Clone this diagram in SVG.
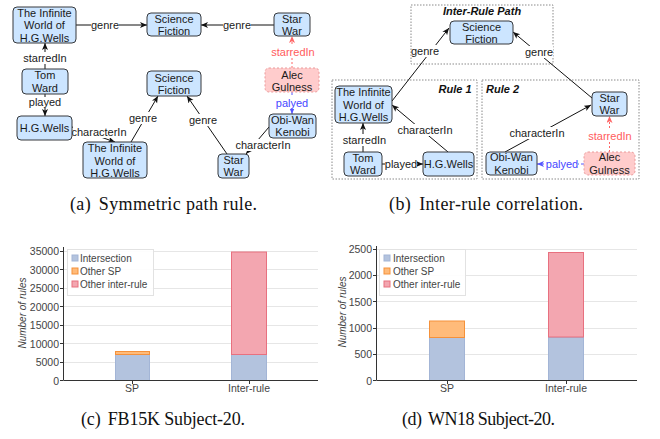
<svg xmlns="http://www.w3.org/2000/svg" width="660" height="439" viewBox="0 0 660 439">
<defs>
<style>
.n rect{fill:#cce5ff;stroke:#36393d;stroke-width:1}
.p rect{fill:#ffcccc;stroke:#ea9a9a;stroke-width:1;stroke-dasharray:2 2}
.n text,.p text,.lbl{font-family:"Liberation Sans",Arial,sans-serif;font-size:11px;text-anchor:middle;fill:#1a1a1a}
.e{stroke:#111;stroke-width:1;fill:none}
.er{stroke:#ff6666;stroke-width:1;fill:none;stroke-dasharray:2 2}
.eb{stroke:#5555ff;stroke-width:1;fill:none;stroke-dasharray:3 2}
.bg{fill:#fff}
.lbl.red{fill:#ff5c5c}
.lbl.blue{fill:#4747ff}
.grp{fill:none;stroke:#8a8a8a;stroke-width:1;stroke-dasharray:1.5 1.5}
.gt{font-family:"Liberation Sans",Arial,sans-serif;font-size:11px;font-weight:bold;font-style:italic;fill:#111}
.cap{font-family:"Liberation Serif","Times New Roman",serif;font-size:18px;fill:#111;text-anchor:middle}
.grid{stroke:#e6e6e6;stroke-width:1}
.axis{stroke:#333;stroke-width:1;fill:none}
.tk{font-family:"Liberation Sans",Arial,sans-serif;font-size:10.5px;fill:#444;text-anchor:end}
.cat{font-family:"Liberation Sans",Arial,sans-serif;font-size:10.5px;fill:#444;text-anchor:middle}
.leg{font-family:"Liberation Sans",Arial,sans-serif;font-size:10px;fill:#444}
.yl{font-family:"Liberation Sans",Arial,sans-serif;font-size:10px;font-style:italic;fill:#444;text-anchor:middle}
.legbox{fill:#fff;fill-opacity:0.9;stroke:#e2e2e2;stroke-width:1}
.sb{fill:#b3c3de;stroke:#a3b5d6;stroke-width:1}
.so{fill:#ffbb7a;stroke:#f5913a;stroke-width:1}
.sr{fill:#f3a6b0;stroke:#e8707f;stroke-width:1}
</style>
<marker id="ak" markerWidth="8" markerHeight="8" refX="7" refY="3" orient="auto" markerUnits="userSpaceOnUse"><path d="M0,0 L7,3 L0,6 L1.8,3 z" fill="#111"/></marker>
<marker id="ar" markerWidth="8" markerHeight="8" refX="7" refY="3" orient="auto" markerUnits="userSpaceOnUse"><path d="M0,0 L7,3 L0,6 L1.8,3 z" fill="#ff6666"/></marker>
<marker id="ab" markerWidth="8" markerHeight="8" refX="7" refY="3" orient="auto" markerUnits="userSpaceOnUse"><path d="M0,0 L7,3 L0,6 L1.8,3 z" fill="#5555ff"/></marker>
</defs>
<rect width="660" height="439" fill="#fff"/>

<!-- Panel (b) group frames -->
<g id="frames">
<rect class="grp" x="411" y="5" width="142" height="59"/>
<rect class="grp" x="332" y="80" width="145" height="99"/>
<rect class="grp" x="482" y="80" width="157" height="99"/>
<text class="gt" x="482" y="15" text-anchor="middle">Inter-Rule Path</text>
<text class="gt" x="455" y="93" text-anchor="middle">Rule 1</text>
<text class="gt" x="486" y="93">Rule 2</text>
</g>

<g id="connectors">
<!-- panel a -->
<path class="e" d="M76,25 H147" marker-end="url(#ak)"/>
<rect class="bg" x="91" y="19" width="28" height="12"/><text class="lbl" x="105" y="28.5">genre</text>
<path class="e" d="M274,25 H201" marker-end="url(#ak)"/>
<rect class="bg" x="223" y="19" width="28" height="12"/><text class="lbl" x="237" y="28.5">genre</text>
<path class="e" d="M45,69 V43" marker-end="url(#ak)"/>
<rect class="bg" x="23" y="52" width="44" height="12"/><text class="lbl" x="45" y="61.5">starredIn</text>
<path class="e" d="M45,94 V116" marker-end="url(#ak)"/>
<rect class="bg" x="29" y="97" width="32" height="11"/><text class="lbl" x="45" y="105.5">played</text>
<path class="e" d="M72,127 L115,142" marker-end="url(#ak)"/>
<rect class="bg" x="73" y="126" width="52" height="12"/><text class="lbl" x="99" y="135.5">characterIn</text>
<path class="e" d="M131,142 L158,96" marker-end="url(#ak)"/>
<rect class="bg" x="129" y="112" width="28" height="12"/><text class="lbl" x="143" y="121.5">genre</text>
<path class="e" d="M227,154 L187,96" marker-end="url(#ak)"/>
<rect class="bg" x="189" y="114" width="28" height="12"/><text class="lbl" x="203" y="123.5">genre</text>
<path class="e" d="M269,127 L246,154" marker-end="url(#ak)"/>
<rect class="bg" x="236" y="139" width="54" height="12"/><text class="lbl" x="263" y="148.5">characterIn</text>
<path class="er" d="M292,68 V36" marker-end="url(#ar)"/>
<rect class="bg" x="271" y="46" width="44" height="12"/><text class="lbl red" x="293" y="55.5">starredIn</text>
<path class="eb" d="M292,92 V114" marker-end="url(#ab)"/>
<rect class="bg" x="276" y="97" width="32" height="12"/><text class="lbl blue" x="292" y="106.5">palyed</text>
<!-- panel b -->
<path class="e" d="M392,101 L449,28" marker-end="url(#ak)"/>
<rect class="bg" x="412" y="45" width="26" height="12"/><text class="lbl" x="425" y="54.5">genre</text>
<path class="e" d="M592,98 L513,32" marker-end="url(#ak)"/>
<rect class="bg" x="525" y="46" width="28" height="12"/><text class="lbl" x="539" y="55.5">genre</text>
<path class="e" d="M363,152 V123" marker-end="url(#ak)"/>
<rect class="bg" x="342.5" y="134" width="44" height="12"/><text class="lbl" x="364.5" y="143.5">starredIn</text>
<path class="e" d="M382,164 H423" marker-end="url(#ak)"/>
<rect class="bg" x="385" y="158" width="32" height="12"/><text class="lbl" x="401" y="167.5">played</text>
<path class="e" d="M448,152 L392,105" marker-end="url(#ak)"/>
<rect class="bg" x="398" y="124" width="54" height="12"/><text class="lbl" x="425" y="133.5">characterIn</text>
<path class="e" d="M505,152 L591,105" marker-end="url(#ak)"/>
<rect class="bg" x="510" y="127" width="54" height="12"/><text class="lbl" x="537" y="136.5">characterIn</text>
<path class="er" d="M609.5,152 V116" marker-end="url(#ar)"/>
<rect class="bg" x="588" y="130" width="44" height="12"/><text class="lbl red" x="610" y="139.5">starredIn</text>
<path class="eb" d="M584,164 H537" marker-end="url(#ab)"/>
<rect class="bg" x="546" y="158" width="32" height="12"/><text class="lbl blue" x="562" y="167.5">palyed</text>
</g>

<!-- Panel (a) nodes -->
<g id="a_world1" class="n"><rect x="13" y="7" width="63" height="36" rx="4"/><text x="44.5" y="16.5">The Infinite<tspan x="44.5" y="29">World of</tspan><tspan x="44.5" y="41.5">H.G.Wells</tspan></text></g>
<g id="a_scifi1" class="n"><rect x="147" y="13" width="54" height="23" rx="4"/><text x="174" y="23">Science<tspan x="174" y="35">Fiction</tspan></text></g>
<g id="a_star1" class="n"><rect x="274" y="13" width="36" height="23" rx="4"/><text x="292" y="23">Star<tspan x="292" y="35">War</tspan></text></g>
<g id="a_alec" class="p"><rect x="265" y="68" width="54" height="24" rx="4"/><text x="292" y="78.5">Alec<tspan x="292" y="90.5">Gulness</tspan></text></g>
<g id="a_tom" class="n"><rect x="22" y="69" width="46" height="25" rx="4"/><text x="45" y="79">Tom<tspan x="45" y="91.5">Ward</tspan></text></g>
<g id="a_hgw" class="n"><rect x="17" y="116" width="55" height="24" rx="4"/><text x="44.5" y="132">H.G.Wells</text></g>
<g id="a_world2" class="n"><rect x="83" y="142" width="64" height="36" rx="4"/><text x="115" y="152">The Infinite<tspan x="115" y="164.5">World of</tspan><tspan x="115" y="177">H.G.Wells</tspan></text></g>
<g id="a_scifi2" class="n"><rect x="147" y="71" width="54" height="25" rx="4"/><text x="174" y="81.5">Science<tspan x="174" y="94">Fiction</tspan></text></g>
<g id="a_star2" class="n"><rect x="218" y="154" width="31" height="24" rx="4"/><text x="233.5" y="163.5">Star<tspan x="233.5" y="176">War</tspan></text></g>
<g id="a_obi" class="n"><rect x="269" y="114" width="47" height="24" rx="4"/><text x="292.5" y="123.5">Obi-Wan<tspan x="292.5" y="136">Kenobi</tspan></text></g>

<!-- Panel (b) nodes -->
<g id="b_scifi" class="n"><rect x="450" y="21" width="63" height="23" rx="4"/><text x="481.5" y="31">Science<tspan x="481.5" y="43">Fiction</tspan></text></g>
<g id="b_world" class="n"><rect x="335" y="86" width="57" height="37" rx="4"/><text x="363.5" y="96">The Infinite<tspan x="363.5" y="108.5">World of</tspan><tspan x="363.5" y="121">H.G.Wells</tspan></text></g>
<g id="b_tom" class="n"><rect x="344" y="152" width="38" height="24" rx="4"/><text x="363" y="161.5">Tom<tspan x="363" y="174">Ward</tspan></text></g>
<g id="b_hgw" class="n"><rect x="423" y="152" width="51" height="24" rx="4"/><text x="448.5" y="168">H.G.Wells</text></g>
<g id="b_star" class="n"><rect x="592" y="92" width="35" height="24" rx="4"/><text x="609.5" y="101.5">Star<tspan x="609.5" y="114">War</tspan></text></g>
<g id="b_alec" class="p"><rect x="584" y="152" width="51" height="23" rx="4"/><text x="609.5" y="161">Alec<tspan x="609.5" y="173.5">Gulness</tspan></text></g>
<g id="b_obi" class="n"><rect x="486" y="152" width="51" height="23" rx="4"/><text x="511.5" y="161">Obi-Wan<tspan x="511.5" y="173.5">Kenobi</tspan></text></g>

<!-- Captions -->
<text class="cap" x="163.5" y="210" textLength="187">(a) <tspan dx="3">Symmetric path rule.</tspan></text>
<text class="cap" x="486" y="210" textLength="194">(b) <tspan dx="3">Inter-rule correlation.</tspan></text>
<text class="cap" x="163" y="425" textLength="164">(c) <tspan dx="3">FB15K Subject-20.</tspan></text>
<text class="cap" x="478.5" y="425" textLength="153">(d) <tspan dx="3">WN18 Subject-20.</tspan></text>

<!-- Chart (c) -->
<g id="chart_c">
<g class="grid">
<line x1="63" y1="362.5" x2="318" y2="362.5"/>
<line x1="63" y1="343.5" x2="318" y2="343.5"/>
<line x1="63" y1="325.5" x2="318" y2="325.5"/>
<line x1="63" y1="306.5" x2="318" y2="306.5"/>
<line x1="63" y1="288.5" x2="318" y2="288.5"/>
<line x1="63" y1="269.5" x2="318" y2="269.5"/>
<line x1="63" y1="251.5" x2="318" y2="251.5"/>
</g>
<rect class="sb" x="115.5" y="354.5" width="34" height="26"/>
<rect class="so" x="115.5" y="351.5" width="34" height="3"/>
<rect class="sb" x="231.5" y="354.5" width="35" height="26"/>
<rect class="sr" x="231.5" y="252" width="35" height="102.5"/>
<path class="axis" d="M63.5,247 V380.5 H318"/>
<path class="axis" d="M60,380.5 H63 M60,362.5 H63 M60,343.5 H63 M60,325.5 H63 M60,306.5 H63 M60,288.5 H63 M60,269.5 H63 M60,251.5 H63 M132.5,381 V384 M249.5,381 V384"/>
<text class="tk" x="59" y="384.5">0</text>
<text class="tk" x="59" y="366">5000</text>
<text class="tk" x="59" y="347.5">10000</text>
<text class="tk" x="59" y="329">15000</text>
<text class="tk" x="59" y="310.5">20000</text>
<text class="tk" x="59" y="292">25000</text>
<text class="tk" x="59" y="273.5">30000</text>
<text class="tk" x="59" y="255">35000</text>
<text class="cat" x="132" y="392">SP</text>
<text class="cat" x="249" y="392">Inter-rule</text>
<text class="yl" transform="translate(26,313) rotate(-90)">Number of rules</text>
<rect class="legbox" x="67.5" y="249.5" width="86" height="46"/>
<rect class="sb" x="72" y="255" width="6" height="6"/>
<rect class="so" x="72" y="268" width="6" height="6"/>
<rect class="sr" x="72" y="281" width="6" height="6"/>
<text class="leg" x="80" y="261.5">Intersection</text>
<text class="leg" x="80" y="274.5">Other SP</text>
<text class="leg" x="80" y="288">Other inter-rule</text>
</g>

<!-- Chart (d) -->
<g id="chart_d">
<g class="grid">
<line x1="376" y1="354.5" x2="637" y2="354.5"/>
<line x1="376" y1="328.5" x2="637" y2="328.5"/>
<line x1="376" y1="301.5" x2="637" y2="301.5"/>
<line x1="376" y1="275.5" x2="637" y2="275.5"/>
<line x1="376" y1="249.5" x2="637" y2="249.5"/>
</g>
<rect class="sb" x="429.5" y="337.5" width="35" height="43"/>
<rect class="so" x="429.5" y="321" width="35" height="16.5"/>
<rect class="sb" x="548.5" y="337.5" width="35" height="43"/>
<rect class="sr" x="548.5" y="252.5" width="35" height="84.5"/>
<path class="axis" d="M376.5,246 V380.5 H637"/>
<path class="axis" d="M373,380.5 H376 M373,354.5 H376 M373,328.5 H376 M373,301.5 H376 M373,275.5 H376 M373,249.5 H376 M447.5,381 V384 M566.5,381 V384"/>
<text class="tk" x="372" y="384.5">0</text>
<text class="tk" x="372" y="358">500</text>
<text class="tk" x="372" y="332">1000</text>
<text class="tk" x="372" y="305.5">1500</text>
<text class="tk" x="372" y="279">2000</text>
<text class="tk" x="372" y="253">2500</text>
<text class="cat" x="447" y="392">SP</text>
<text class="cat" x="566" y="392">Inter-rule</text>
<text class="yl" transform="translate(346,312) rotate(-90)">Number of rules</text>
<rect class="legbox" x="379.5" y="249.5" width="86" height="46"/>
<rect class="sb" x="384" y="255" width="6" height="6"/>
<rect class="so" x="384" y="268" width="6" height="6"/>
<rect class="sr" x="384" y="281" width="6" height="6"/>
<text class="leg" x="393" y="261.5">Intersection</text>
<text class="leg" x="393" y="274.5">Other SP</text>
<text class="leg" x="393" y="288">Other inter-rule</text>
</g>
</svg>
